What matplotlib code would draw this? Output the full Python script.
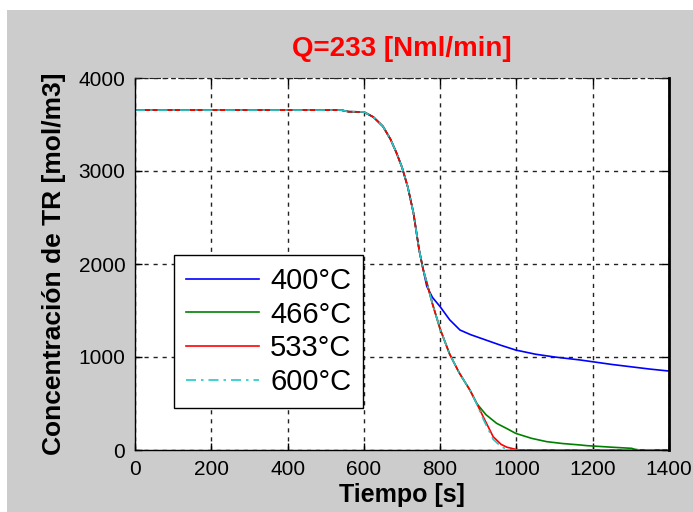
import matplotlib
matplotlib.use("Agg")
from matplotlib import pyplot as plt
from matplotlib import rcParams
from matplotlib.patches import Rectangle
import numpy as np

rcParams["font.family"] = ["Liberation Sans", "DejaVu Sans"]

# shared decay (all four curves overlap up to ~760 s)
t_common = [0, 540, 560, 600, 625, 650, 670, 685, 700, 715, 730, 745, 755]
c_common = [3655, 3655, 3638, 3635, 3580, 3480, 3340, 3200, 3040, 2830, 2550, 2150, 1950]

# 400 C
t_400 = [765, 780, 800, 825, 852, 880, 905, 957, 998, 1050, 1100, 1167, 1198, 1250, 1300, 1350, 1400]
c_400 = [1760, 1640, 1541, 1400, 1290, 1240, 1204, 1129, 1075, 1030, 1000, 968, 950, 920, 895, 870, 849]

# 533 C (466 C follows it until ~896 s)
t_533 = [765, 780, 800, 825, 850, 878, 896, 915, 939, 960, 975, 1000, 1010, 1400]
c_533 = [1800, 1570, 1300, 1030, 830, 645, 500, 340, 143, 60, 30, 5, 0, 0]

# 466 C tail
t_466 = [920, 948, 975, 998, 1040, 1079, 1120, 1167, 1184, 1250, 1302, 1310, 1320, 1400]
c_466 = [380, 287, 230, 179, 125, 90, 70, 54, 47, 30, 18, 8, 2, 2]

# 600 C tail
t_600 = [765, 780, 800, 825, 850, 878, 896, 915, 939, 960, 975, 990, 1400]
c_600 = [1800, 1570, 1300, 1030, 830, 645, 495, 315, 115, 35, 8, 0, 0]

labels = ['400°C', '466°C', '533°C', '600°C']
colors = ['#0000ff', '#008000', '#ff0000', '#22c8c8']

t400 = np.array(t_common + t_400)
y400 = np.array(c_common + c_400)
t533 = np.array(t_common + t_533)
y533 = np.array(c_common + c_533)
k = t_533.index(896)
t466 = np.array(t_common + t_533[:k + 1] + t_466)
y466 = np.array(c_common + c_533[:k + 1] + c_466)
t600 = np.array(t_common + t_600)
y600 = np.array(c_common + c_600)

fig = plt.figure(figsize=(6.93, 5.12), dpi=100, facecolor='white')
fig.patches.append(Rectangle((7 / 693, 0), 1, (512 - 10) / 512, transform=fig.transFigure,
                             facecolor='#cccccc', edgecolor='none', zorder=-10))
ax = fig.add_axes([135 / 693, (512 - 450) / 512, 534 / 693, 372 / 512])

ax.plot(t400, y400, color=colors[0], lw=1.2, label=labels[0])
ax.plot(t466, y466, color=colors[1], lw=1.2, label=labels[1])
ax.plot(t533, y533, color=colors[2], lw=1.2, label=labels[2])
ax.plot(t600, y600, color=colors[3], lw=1.2, linestyle=(0, (6, 3, 1.5, 3)), label=labels[3])

ax.set_xlim(0, 1400)
ax.set_ylim(0, 4000)
ax.set_xticks(np.arange(0, 1401, 200))
ax.set_yticks(np.arange(0, 4001, 1000))
ax.grid(True, color='#222222', linestyle=(0, (3, 3.5)), linewidth=1)
ax.tick_params(axis='both', which='major', direction='in', top=True, right=True,
               length=5, width=1, labelsize=15, pad=7)

for s in ['bottom', 'left']:
    ax.spines[s].set_linewidth(1)
ax.spines['right'].set_linewidth(2)
ax.spines['top'].set_linestyle((0, (3, 3.5)))
ax.spines['top'].set_color('#222222')

ax.set_title('Q=233 [Nml/min]', color='#ff0000', fontsize=20, fontweight='bold', pad=16)
ax.set_xlabel('Tiempo [s]', fontsize=18, fontweight='bold', labelpad=3)
ax.set_ylabel('Concentración de TR [mol/m3]', fontsize=19, fontweight='bold', labelpad=9)

leg = ax.legend(loc='lower left', bbox_to_anchor=(0.073, 0.113), borderaxespad=0,
                fontsize=21, fancybox=False, framealpha=1, edgecolor='black',
                handlelength=2.5, handletextpad=0.4, labelspacing=0.2, borderpad=0.4)
leg.get_frame().set_linewidth(1)

plt.savefig('out.png', dpi=100)
